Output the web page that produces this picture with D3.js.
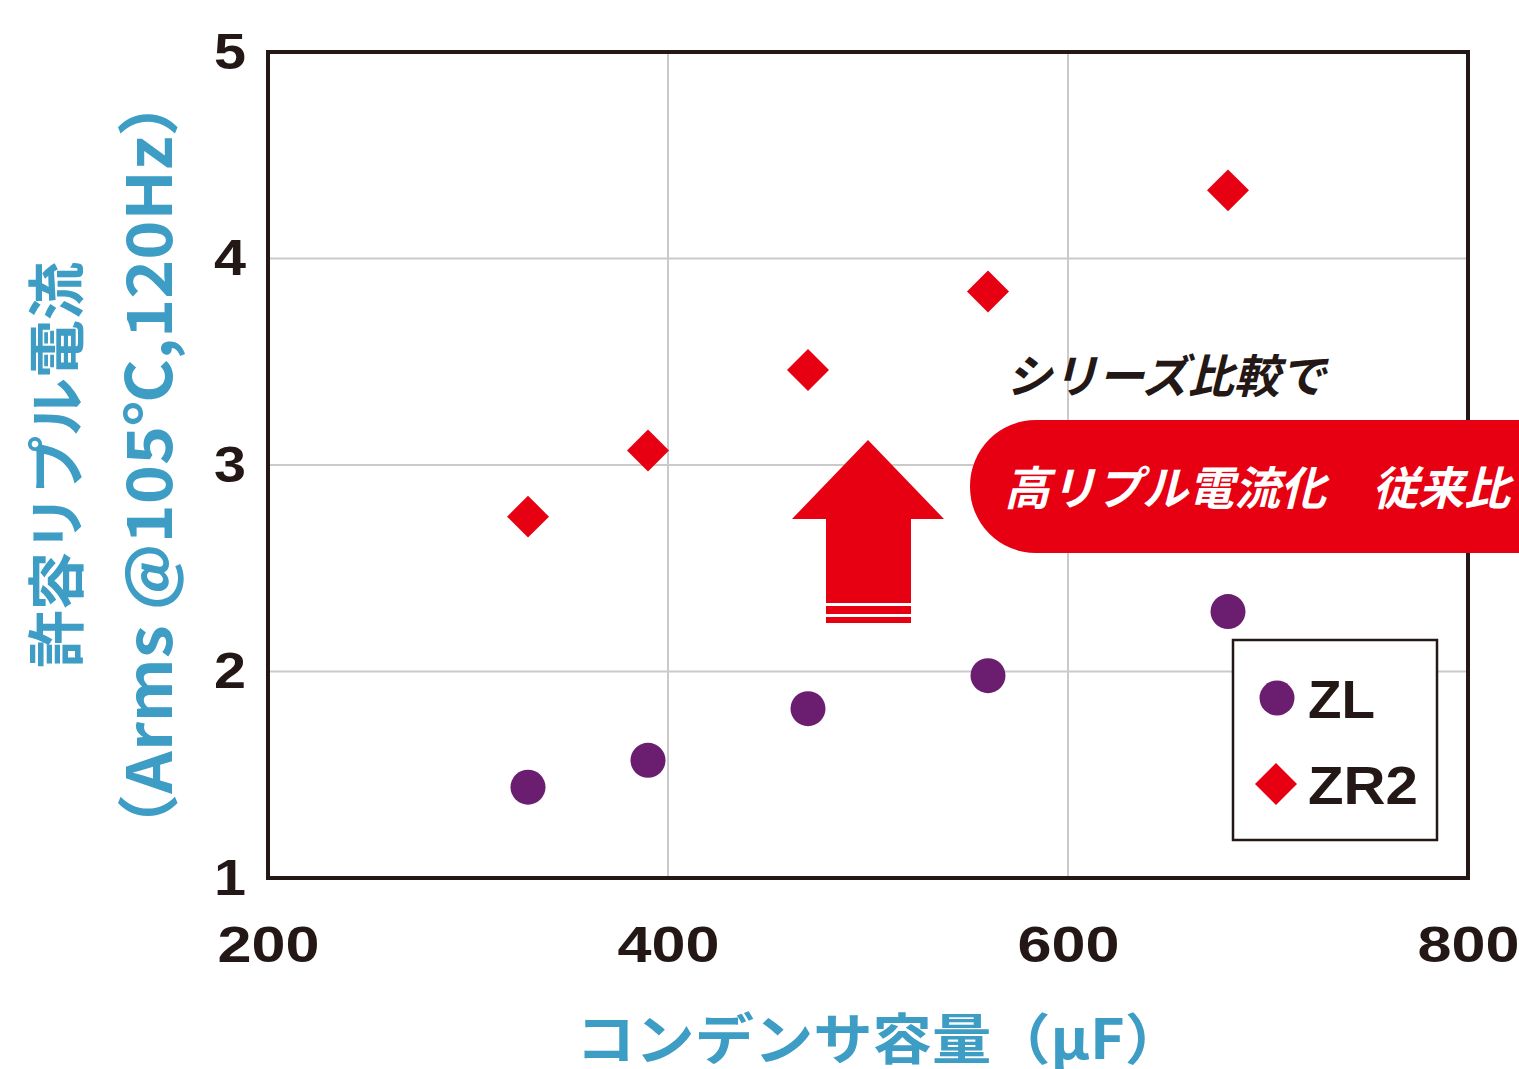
<!DOCTYPE html>
<html>
<head>
<meta charset="utf-8">
<script src="https://cdn.jsdelivr.net/npm/d3@7"></script>
<style>
  body { margin: 0; background: #fff; }
  text { font-family: "Noto Sans CJK JP", "Liberation Sans", sans-serif; }
</style>
</head>
<body>
<div id="chart"></div>
<script>
// Data - capacitance (uF) vs allowable ripple current (Arms)
const capacitance = [330, 390, 470, 560, 680]
const zlValues = [1.44, 1.57, 1.82, 1.98, 2.29]
const zr2Values = [2.75, 3.07, 3.46, 3.84, 4.33]
const xTicks = [200, 400, 600, 800]
const yTicks = [1, 2, 3, 4, 5]

const width = 1519
const height = 1069
const margin = { top: 52, right: 51, bottom: 191, left: 268 }
const graphWidth = width - margin.left - margin.right
const graphHeight = height - margin.top - margin.bottom

const purple = '#6b1e6f'
const red = '#e60012'
const blue = '#3d9dc5'
const dark = '#231815'

const svg = d3.select('#chart')
    .append('svg')
    .attr('width', width)
    .attr('height', height)

const g = svg.append('g')
    .attr('transform', `translate(${margin.left}, ${margin.top})`)

const x = d3.scaleLinear().domain([200, 800]).range([0, graphWidth])
const y = d3.scaleLinear().domain([1, 5]).range([graphHeight, 0])

// grid
g.append('g')
    .selectAll('line')
    .data(xTicks.slice(1, -1))
    .join('line')
    .attr('x1', d => x(d)).attr('x2', d => x(d))
    .attr('y1', 0).attr('y2', graphHeight)
    .attr('stroke', '#cacaca').attr('stroke-width', 2)

g.append('g')
    .selectAll('line')
    .data(yTicks.slice(1, -1))
    .join('line')
    .attr('x1', 0).attr('x2', graphWidth)
    .attr('y1', d => y(d)).attr('y2', d => y(d))
    .attr('stroke', '#cacaca').attr('stroke-width', 2)

// axes (labels only, frame drawn separately)
const xAxis = d3.axisBottom(x).tickValues(xTicks).tickSize(0).tickPadding(48)
    .tickFormat(d3.format('d'))
const yAxis = d3.axisLeft(y).tickValues(yTicks).tickSize(0).tickPadding(22)
    .tickFormat(d3.format('d'))

const xAxisGroup = g.append('g')
    .attr('transform', `translate(0, ${graphHeight})`)
    .call(xAxis)
xAxisGroup.select('.domain').remove()
xAxisGroup.selectAll('text')
    .style('font-family', '"Liberation Sans", sans-serif')
    .style('font-weight', 'bold')
    .style('font-size', '50px')
    .attr('textLength', 102)
    .attr('lengthAdjust', 'spacingAndGlyphs')
    .attr('fill', dark)

const yAxisGroup = g.append('g').call(yAxis)
yAxisGroup.select('.domain').remove()
yAxisGroup.selectAll('text')
    .style('font-family', '"Liberation Sans", sans-serif')
    .style('font-weight', 'bold')
    .style('font-size', '50px')
    .attr('textLength', 32)
    .attr('lengthAdjust', 'spacingAndGlyphs')
    .attr('fill', dark)

// annotation: red banner
const bannerTop = 368
const bannerH = 133
const bannerLeft = x(551)
g.append('rect')
    .attr('x', bannerLeft)
    .attr('y', bannerTop)
    .attr('width', 800)
    .attr('height', bannerH)
    .attr('rx', 66)
    .attr('fill', red)

g.append('text')
    .attr('x', bannerLeft + 36)
    .attr('y', 341)
    .attr('fill', dark)
    .style('font-size', '46px')
    .style('font-weight', 'bold')
    .style('font-style', 'italic')
    .text('シリーズ比較で')

// annotation: up arrow
const ax = x(500)
const tipY = 388
const headY = 467
const shaftBot = 551
const arrowPath = [
    [ax, tipY], [ax + 76, headY], [ax + 43, headY], [ax + 43, shaftBot],
    [ax - 42, shaftBot], [ax - 42, headY], [ax - 76, headY]
]
g.append('path')
    .attr('d', d3.line()(arrowPath) + 'Z')
    .attr('fill', red)
g.append('rect')
    .attr('x', ax - 42).attr('y', shaftBot + 3)
    .attr('width', 85).attr('height', 8)
    .attr('fill', red)
g.append('rect')
    .attr('x', ax - 42).attr('y', shaftBot + 14)
    .attr('width', 85).attr('height', 6)
    .attr('fill', red)

// frame
g.append('rect')
    .attr('x', 0).attr('y', 0)
    .attr('width', graphWidth).attr('height', graphHeight)
    .attr('fill', 'none')
    .attr('stroke', dark)
    .attr('stroke-width', 4)

// red banner continues over the right frame edge
g.append('rect')
    .attr('x', graphWidth - 10)
    .attr('y', bannerTop)
    .attr('width', 100)
    .attr('height', bannerH)
    .attr('fill', red)
g.append('text')
    .attr('x', bannerLeft + 34)
    .attr('y', bannerTop + 85)
    .attr('fill', '#fff')
    .style('font-size', '46px')
    .style('font-weight', 'bold')
    .style('font-style', 'italic')
    .text('高リプル電流化　従来比')

// data marks
const zl = capacitance.map((c, i) => ({ c, v: zlValues[i] }))
const zr2 = capacitance.map((c, i) => ({ c, v: zr2Values[i] }))

g.append('g')
    .selectAll('circle')
    .data(zl)
    .join('circle')
    .attr('cx', d => x(d.c))
    .attr('cy', d => y(d.v))
    .attr('r', 17.5)
    .attr('fill', purple)

const diamond = d3.symbol().type(d3.symbolSquare).size(880)
g.append('g')
    .selectAll('path')
    .data(zr2)
    .join('path')
    .attr('d', diamond)
    .attr('transform', d => `translate(${x(d.c)}, ${y(d.v)}) rotate(45)`)
    .attr('fill', red)

// legend
const legend = svg.append('g').attr('transform', 'translate(1233, 640)')
legend.append('rect')
    .attr('width', 204).attr('height', 200)
    .attr('fill', '#fff')
    .attr('stroke', dark)
    .attr('stroke-width', 2.5)
legend.append('circle')
    .attr('cx', 44).attr('cy', 58).attr('r', 17.5)
    .attr('fill', purple)
legend.append('path')
    .attr('d', diamond)
    .attr('transform', 'translate(43, 144) rotate(45)')
    .attr('fill', red)
legend.selectAll('text.lab')
    .data(['ZL', 'ZR2'])
    .join('text')
    .attr('class', 'lab')
    .attr('x', 75)
    .attr('y', (d, i) => 78 + i * 86)
    .attr('fill', dark)
    .style('font-family', '"Liberation Sans", sans-serif')
    .style('font-weight', 'bold')
    .style('font-size', '54px')
    .attr('textLength', (d, i) => i === 0 ? 67 : 110)
    .attr('lengthAdjust', 'spacingAndGlyphs')
    .text(d => d)

// axis titles
svg.append('text')
    .attr('x', 576)
    .attr('y', 1059)
    .attr('fill', blue)
    .style('font-size', '55px')
    .style('font-weight', 'bold')
    .attr('textLength', 608)
    .attr('lengthAdjust', 'spacingAndGlyphs')
    .text('コンデンサ容量（μF）')

svg.append('text')
    .attr('transform', 'translate(78, 465) rotate(-90)')
    .attr('text-anchor', 'middle')
    .attr('fill', blue)
    .style('font-size', '58px')
    .style('font-weight', 'bold')
    .text('許容リプル電流')

svg.append('text')
    .attr('transform', 'translate(172, 465) rotate(-90)')
    .attr('text-anchor', 'middle')
    .attr('fill', blue)
    .style('font-size', '62px')
    .style('font-weight', 'bold')
    .attr('textLength', 790)
    .attr('lengthAdjust', 'spacingAndGlyphs')
    .text('（Arms @105℃,120Hz）')
</script>
</body>
</html>
